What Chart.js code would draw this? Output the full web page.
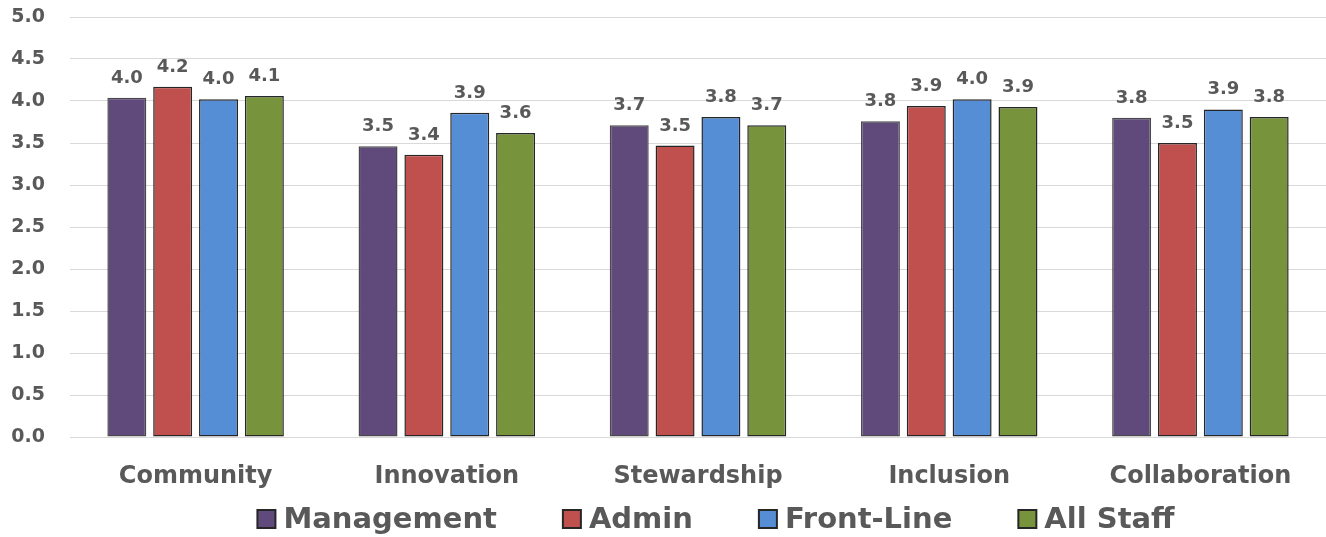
<!DOCTYPE html>
<html>
<head>
<meta charset="utf-8">
<script src="https://cdn.jsdelivr.net/npm/chart.js@4"></script>
<style>
    body { margin: 0; background: #fff; }
    #wrap { width: 1326px; height: 537px; position: relative; }
</style>
</head>
<body>
<div id="wrap"><canvas id="values-chart"></canvas></div>
<script>
const categories = ["Community", "Innovation", "Stewardship", "Inclusion", "Collaboration"];
const management = [4.04, 3.46, 3.71, 3.76, 3.80];
const admin = [4.17, 3.36, 3.47, 3.94, 3.50];
const front_line = [4.02, 3.86, 3.81, 4.02, 3.90];
const all_staff = [4.06, 3.62, 3.71, 3.93, 3.81];
const y_ticks = [0, 0.5, 1, 1.5, 2, 2.5, 3, 3.5, 4, 4.5, 5];

const font_family = "'DejaVu Sans', sans-serif";
const text_gray = "#595959";

// value printed above each bar
const bar_labels = {
    id: 'bar_labels',
    afterDatasetsDraw(chart) {
        const ctx = chart.ctx;
        ctx.save();
        ctx.font = "bold 18px " + font_family;
        ctx.fillStyle = text_gray;
        ctx.textAlign = "center";
        ctx.textBaseline = "alphabetic";
        chart.data.datasets.forEach((ds, i) => {
            chart.getDatasetMeta(i).data.forEach((bar, j) => {
                ctx.fillText(ds.data[j].toFixed(1), bar.x, bar.y - 15);
            });
        });
        ctx.restore();
    }
};

// legend row along the bottom, square swatches with a dark outline
const bottom_legend = {
    id: 'bottom_legend',
    afterDraw(chart) {
        const ctx = chart.ctx;
        const box = 18;
        const box_gap = 8;
        const item_gap = 66;
        const y = 519;
        ctx.save();
        ctx.font = "bold 29px " + font_family;
        ctx.textBaseline = "middle";
        const items = chart.data.datasets.map(ds => ({
            label: ds.label,
            color: ds.backgroundColor,
            width: box + box_gap + ctx.measureText(ds.label).width
        }));
        const total = items.reduce((acc, it) => acc + it.width, 0) + item_gap * (items.length - 1);
        let x = 716 - total / 2;
        items.forEach(it => {
            ctx.fillStyle = it.color;
            ctx.fillRect(x, y - box / 2, box, box);
            ctx.strokeStyle = "#262626";
            ctx.lineWidth = 2;
            ctx.strokeRect(x, y - box / 2, box, box);
            ctx.fillStyle = text_gray;
            ctx.fillText(it.label, x + box + box_gap, y + 1);
            x += it.width + item_gap;
        });
        ctx.restore();
    }
};

function make_dataset(label, data, color, edge) {
    return {
        label: label,
        data: data,
        backgroundColor: color,
        borderColor: edge,
        borderWidth: 1.5,
        borderSkipped: false,
        categoryPercentage: 0.73,
        barPercentage: 0.85
    };
}

let values_chart = new Chart(
    document.getElementById('values-chart'),
    {
        type: 'bar',
        data: {
            labels: categories,
            datasets: [
                make_dataset("Management", management, "#604A7B", "#4a4a4a"),
                make_dataset("Admin", admin, "#C0504D", "#262626"),
                make_dataset("Front-Line", front_line, "#558ED5", "#262626"),
                make_dataset("All Staff", all_staff, "#77933C", "#262626")
            ]
        },
        plugins: [bar_labels, bottom_legend],
        options: {
            responsive: true,
            maintainAspectRatio: false,
            animation: false,
            layout: { padding: { top: 17, left: 10, right: 0, bottom: 30 } },
            scales: {
                x: {
                    afterFit: (axis) => { axis.height = 70; },
                    grid: { display: false },
                    border: { display: false },
                    ticks: {
                        color: text_gray,
                        font: { family: font_family, size: 24, weight: 'bold' },
                        padding: 17,
                        maxRotation: 0
                    }
                },
                y: {
                    min: 0,
                    max: 5,
                    // keep the label gap from pushing the plot down
                    afterFit: (axis) => {
                        axis.width = 60;
                        axis.paddingTop = 10;
                        axis.paddingBottom = 10;
                    },
                    afterBuildTicks: (axis) => {
                        axis.ticks = y_ticks.map(v => ({ value: v }));
                    },
                    grid: { color: "#D9D9D9", lineWidth: 1, drawTicks: false },
                    border: { display: false },
                    ticks: {
                        color: text_gray,
                        font: { family: font_family, size: 19, weight: 'bold' },
                        padding: 25,
                        callback: (value) => value.toFixed(1)
                    }
                }
            },
            plugins: {
                legend: { display: false },
                tooltip: { enabled: false }
            }
        }
    }
);
</script>
</body>
</html>
